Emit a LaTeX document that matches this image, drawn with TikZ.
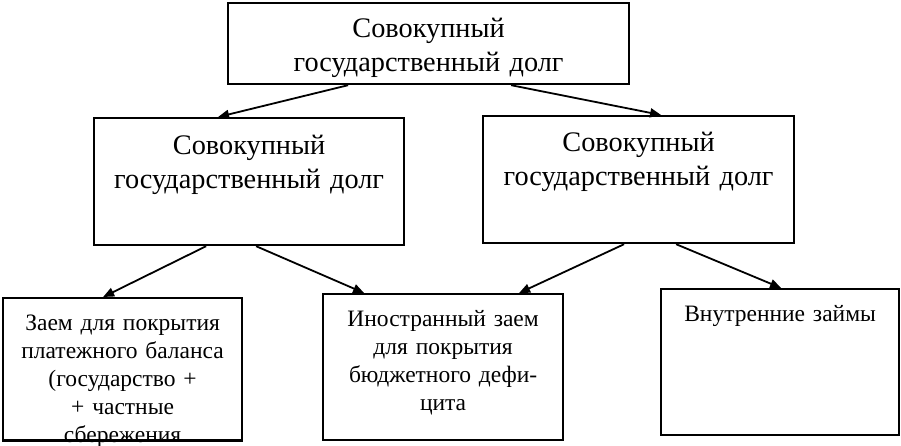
\documentclass[tikz,border=0pt]{standalone}
\usepackage{fontspec}
\setmainfont{Liberation Serif}
\usepackage{tikz}
\usetikzlibrary{arrows.meta}
\tikzset{
	blok/.style={draw, line width=2.2pt, inner sep=0pt, align=center, anchor=north west},
	big/.style={font=\fontsize{28.3}{34}\selectfont},
	small/.style={font=\fontsize{23.5}{28}\selectfont},
	link/.style={-{Triangle[length=11pt,width=9pt]}, line width=1.8pt}
}
\begin{document}
\begin{tikzpicture}[x=1pt,y=1pt]
	\useasboundingbox (0,0) rectangle (901,445);
	\node[blok, big, text width=401pt, text height=34pt, text depth=47pt] (dolg) at (227,443) {Совокупный\\государственный долг};
	\node[blok, big, text width=310pt, text height=36pt, text depth=91pt] (dolgA) at (93,328) {Совокупный\\государственный долг};
	\node[blok, big, text width=311pt, text height=35pt, text depth=92pt] (dolgB) at (482,330) {Совокупный\\государственный долг};
	\node[blok, small, text width=239pt, text height=32pt, text depth=110pt] (zaem) at (2,148) {Заем для покрытия\\платежного баланса\\(государство +\\+ частные\\сбережения};
	\node[blok, small, text width=240pt, text height=32pt, text depth=114pt] (inzaem) at (322,152) {Иностранный заем\\для покрытия\\бюджетного дефи-\\цита};
	\node[blok, small, text width=238pt, text height=32pt, text depth=114pt] (vnzaem) at (660,157) {Внутренние займы};
	\draw[line width=2.2pt] (zaem.south west) -- (zaem.south east);
	\draw[link] ([xshift=-80.5pt]dolg.south) -- ([xshift=-31pt]dolgA.north);
	\draw[link] ([xshift=82.5pt]dolg.south) -- ([xshift=22.5pt]dolgB.north);
	\draw[link] ([xshift=-43pt]dolgA.south) -- ([xshift=-19.5pt]zaem.north);
	\draw[link] ([xshift=7pt]dolgA.south) -- ([xshift=-79pt]inzaem.north);
	\draw[link] ([xshift=-14.5pt]dolgB.south) -- ([xshift=76pt]inzaem.north);
	\draw[link] ([xshift=37.5pt]dolgB.south) -- ([xshift=1pt]vnzaem.north);
\end{tikzpicture}
\end{document}
